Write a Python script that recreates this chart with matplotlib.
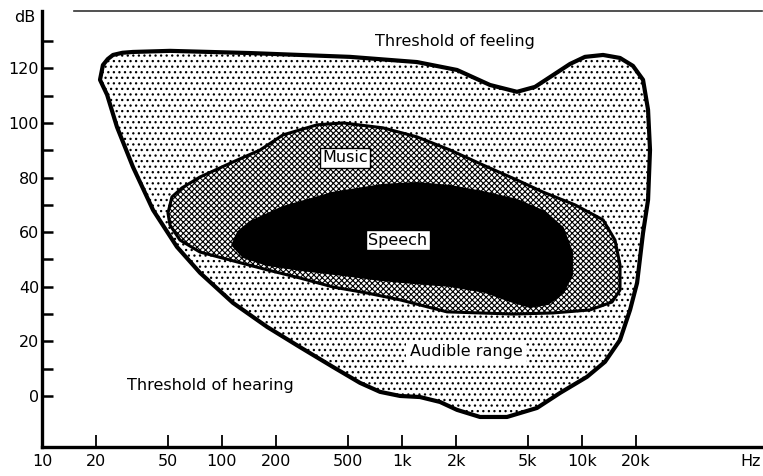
import numpy as np
import matplotlib
matplotlib.use('Agg')
import matplotlib.pyplot as plt
from matplotlib.patches import Polygon
from matplotlib.ticker import FixedLocator, NullFormatter

# outline of the audible range (Hz, dB), clockwise from top-left
audible_freq = [21, 21.8, 23.2, 24.8, 28, 32, 51.4, 85.8, 143, 271, 514, 1211, 2021,
                3083, 4354, 5481, 6643, 8577, 10390, 13090, 16260, 19190, 21830,
                23280, 23870, 23280, 21830, 20230, 18490, 16260, 13420, 10660, 7551,
                5623, 3831, 2712, 2021, 1626, 1259, 975, 755, 584, 414, 271, 178, 115,
                75.5, 56.2, 41.4, 32, 26.1, 23]
audible_db = [115.8, 121.2, 123.4, 124.9, 125.7, 126.0, 126.4, 126.0, 125.6, 124.9,
              124.2, 122.3, 119.4, 113.9, 111.4, 113.2, 116.8, 121.6, 124.2, 124.9,
              123.8, 120.9, 115.8, 104.8, 90.1, 71.8, 59.7, 41.4, 31.5, 20.5, 12.5,
              7.0, 1.1, -4.4, -7.7, -7.7, -5.1, -2.2, -0.4, 0.0, 1.5, 4.8, 10.6, 17.9,
              25.3, 34.1, 45.1, 54.6, 68.1, 83.9, 98.5, 110.3]

music_freq = [50.1, 52.7, 59.9, 75.5, 115, 163, 218, 337, 470, 784, 1211, 1848,
              2818, 4354, 6067, 9141, 13090, 15250, 16260, 16260, 14680, 11070,
              6905, 4138, 1778, 975, 640, 414, 271, 178, 115, 75.5, 58.4, 51.4]
music_db = [67.0, 72.9, 76.2, 80.2, 85.7, 90.1, 95.6, 99.3, 100.0, 98.2, 94.9, 90.1,
            84.6, 79.1, 74.7, 70.0, 64.5, 57.1, 48.0, 38.8, 34.4, 31.5, 30.4, 30.0,
            30.8, 35.2, 37.7, 39.9, 43.2, 46.2, 49.5, 52.7, 57.1, 62.6]

speech_freq = [114, 123, 143, 218, 414, 784, 1211, 1848, 2818, 4354, 6223, 7834,
               8790, 8790, 7834, 6471, 5140, 3981, 2891, 1848, 1151, 755, 514, 271,
               178, 131]
speech_db = [55.3, 60.1, 63.7, 69.2, 74.4, 77.3, 78.0, 76.9, 74.7, 71.8, 67.4, 61.5,
             52.7, 44.3, 37.7, 33.7, 32.6, 34.8, 38.1, 40.3, 41.4, 42.5, 44.0, 46.2,
             48.0, 50.9]

x_ticks = [20, 50, 100, 200, 500, 1000, 2000, 5000, 10000, 20000]
x_labels = ['20', '50', '100', '200', '500', '1k', '2k', '5k', '10k', '20k']
y_major = [0, 20, 40, 60, 80, 100, 120]
y_minor = [10, 30, 50, 70, 90, 110, 130]

plt.rcParams['font.family'] = 'DejaVu Sans'
plt.rcParams['font.size'] = 11.5

fig = plt.figure(figsize=(7.63, 4.76), dpi=100)
ax = fig.add_axes([42 / 763, 29 / 476, 720 / 763, 436 / 476])
ax.set_xscale('log')
ax.set_xlim(10, 1e5)
ax.set_ylim(-18.7, 141.0)

plt.rcParams['hatch.linewidth'] = 0.9
outer = Polygon(np.column_stack([audible_freq, audible_db]), closed=True,
                facecolor='white', edgecolor='black', hatch='...',
                linewidth=3.0, joinstyle='round', zorder=1)
ax.add_patch(outer)

plt.rcParams['hatch.linewidth'] = 0.8
music = Polygon(np.column_stack([music_freq, music_db]), closed=True,
                facecolor='white', edgecolor='black', hatch='xxxxxx',
                linewidth=2.2, joinstyle='round', zorder=2)
ax.add_patch(music)

speech = Polygon(np.column_stack([speech_freq, speech_db]), closed=True,
                 facecolor='black', edgecolor='black', linewidth=1.5,
                 joinstyle='round', zorder=3)
ax.add_patch(speech)

ax.text(1969, 129.7, 'Threshold of feeling', ha='center', va='center')
ax.text(86, 4.0, 'Threshold of hearing', ha='center', va='center')
ax.text(482, 87.2, 'Music', ha='center', va='center', zorder=5,
        bbox=dict(boxstyle='square,pad=0.15', facecolor='white',
                  edgecolor='black', linewidth=1))
ax.text(950, 57.1, 'Speech', ha='center', va='center', zorder=5,
        bbox=dict(boxstyle='square,pad=0.15', facecolor='white',
                  edgecolor='black', linewidth=1))
ax.text(2268, 16.1, 'Audible range', ha='center', va='center', zorder=5,
        bbox=dict(boxstyle='square,pad=0.2', facecolor='white',
                  edgecolor='none'))

ax.spines['right'].set_visible(False)
ax.spines['left'].set_linewidth(2.4)
ax.spines['bottom'].set_linewidth(2.4)
ax.spines['top'].set_linewidth(1.2)
ax.spines['top'].set_color('#333333')
ax.spines['top'].set_bounds(15, 1e5)

ax.xaxis.set_major_locator(FixedLocator(x_ticks))
ax.set_xticklabels(x_labels)
ax.xaxis.set_minor_formatter(NullFormatter())
ax.xaxis.set_minor_locator(FixedLocator([]))
ax.tick_params(axis='x', which='major', direction='in', length=9, width=1.3, pad=5)

ax.yaxis.set_major_locator(FixedLocator(y_major))
ax.yaxis.set_minor_locator(FixedLocator(y_minor))
ax.tick_params(axis='y', which='both', direction='in', length=8, width=1.8, pad=2)

fig.text(42 / 763, 1 - 462 / 476, '10', ha='center', va='center')
fig.text(25 / 763, 1 - 17 / 476, 'dB', ha='center', va='center')
fig.text(761 / 763, 1 - 462 / 476, 'Hz', ha='right', va='center')

fig.savefig('out.png', dpi=100)
